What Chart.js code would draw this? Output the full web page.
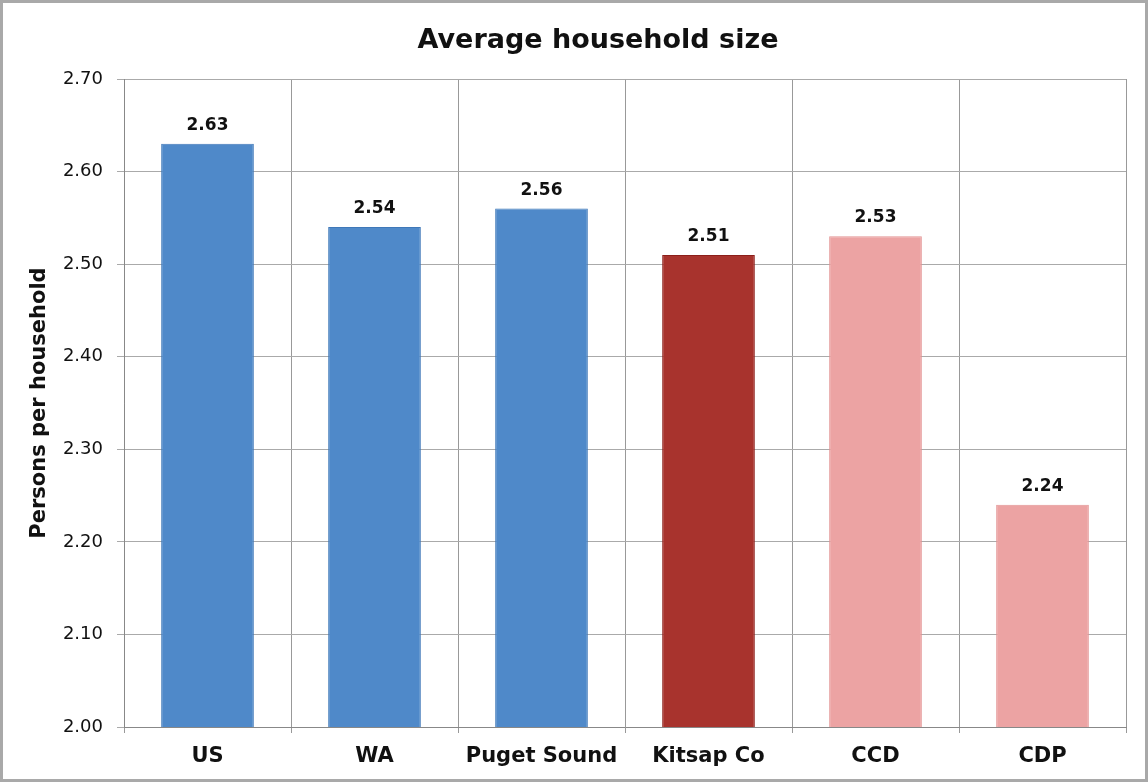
<!DOCTYPE html>
<html>
<head>
<meta charset="utf-8">
<script src="https://cdn.jsdelivr.net/npm/chart.js@4/dist/chart.umd.min.js"></script>
<style>
html,body{margin:0;padding:0;background:#fff;}
#wrap{width:1148px;height:782px;position:relative;}
</style>
</head>
<body>
<div id="wrap"><canvas id="c" width="1148" height="782"></canvas></div>
<script>
const chartTitle = "Average household size";
const categories = ["US", "WA", "Puget Sound", "Kitsap Co", "CCD", "CDP"];
const householdSize = [2.63, 2.54, 2.56, 2.51, 2.53, 2.24];
const barColors = ["#4f89c9", "#4f89c9", "#4f89c9", "#a8332d", "#eca3a3", "#eca3a3"];
const barBorders = ["#3f78b8", "#3f78b8", "#3f78b8", "#8c1f1a", "#e39494", "#e39494"];
const yTickValues = [2.00, 2.10, 2.20, 2.30, 2.40, 2.50, 2.60, 2.70];

const frame = {
  id: 'frame',
  beforeDraw(chart) {
    const ctx = chart.ctx;
    ctx.save();
    ctx.fillStyle = '#ffffff';
    ctx.fillRect(0, 0, chart.width, chart.height);
    ctx.strokeStyle = '#a9a9a9';
    ctx.lineWidth = 3;
    ctx.strokeRect(1.5, 1.5, chart.width - 3, chart.height - 3);
    ctx.restore();
  },
  afterDraw(chart) {
    const ctx = chart.ctx;
    ctx.save();
    ctx.font = 'bold 27px "DejaVu Sans", sans-serif';
    ctx.fillStyle = '#111';
    ctx.textAlign = 'center';
    ctx.textBaseline = 'alphabetic';
    ctx.fillText(chartTitle, 598, 48);
    ctx.restore();
  }
};

const valueLabels = {
  id: 'valueLabels',
  afterDatasetsDraw(chart) {
    const ctx = chart.ctx;
    const meta = chart.getDatasetMeta(0);
    ctx.save();
    ctx.font = 'bold 17px "DejaVu Sans", sans-serif';
    ctx.fillStyle = '#111';
    ctx.textAlign = 'center';
    ctx.textBaseline = 'bottom';
    meta.data.forEach((bar, i) => {
      ctx.fillText(householdSize[i].toFixed(2), bar.x, bar.y - 10);
    });
    ctx.restore();
  }
};

new Chart(document.getElementById('c'), {
  type: 'bar',
  data: {
    labels: categories,
    datasets: [{
      data: householdSize,
      backgroundColor: barColors,
      borderColor: barBorders,
      borderWidth: 1,
      barPercentage: 0.555,
      categoryPercentage: 1.0
    }]
  },
  options: {
    responsive: false,
    animation: false,
    devicePixelRatio: 1,
    layout: { padding: { left: 20, right: 22, top: 79, bottom: 0 } },
    plugins: {
      legend: { display: false },
      tooltip: { enabled: false },
      title: { display: false }
    },
    scales: {
      x: {
        grid: { color: '#999', lineWidth: 1, offset: true, drawTicks: true, tickLength: 6 },
        border: { color: '#888', width: 1 },
        ticks: {
          color: '#111',
          font: { family: '"DejaVu Sans", sans-serif', size: 21, weight: 'bold' },
          padding: 11
        },
        afterFit(scale) { scale.height = 55; }
      },
      y: {
        min: 2.0,
        max: 2.7,
        afterBuildTicks(scale) { scale.ticks = yTickValues.map(v => ({ value: v })); },
        grid: { color: '#aaa', lineWidth: 1, tickLength: 7 },
        border: { color: '#888', width: 1 },
        ticks: {
          color: '#111',
          font: { family: '"DejaVu Sans", sans-serif', size: 18 },
          padding: 14,
          callback: (v) => Number(v).toFixed(2)
        },
        title: {
          display: true,
          text: 'Persons per household',
          color: '#111',
          font: { family: '"DejaVu Sans", sans-serif', size: 21, weight: 'bold' },
          padding: { top: 7, bottom: 8 }
        },
        afterFit(scale) { scale.width = 104; }
      }
    }
  },
  plugins: [frame, valueLabels]
});
</script>
</body>
</html>
